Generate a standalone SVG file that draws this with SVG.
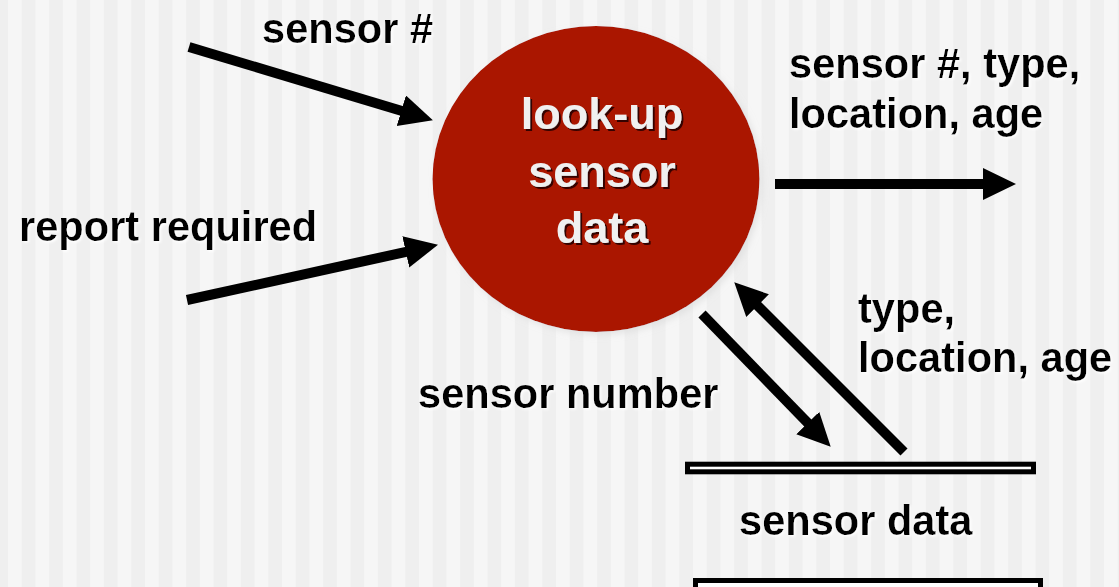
<svg xmlns="http://www.w3.org/2000/svg" width="1119" height="587" viewBox="0 0 1119 587">
  <defs>
    <pattern id="stripes" patternUnits="userSpaceOnUse" x="8" y="0" width="27.4" height="10">
      <rect x="0" y="0" width="13.7" height="10" fill="#f6f6f6"/>
      <rect x="13.7" y="0" width="13.7" height="10" fill="#efefef"/>
    </pattern>
    <marker id="arrow" markerUnits="userSpaceOnUse" markerWidth="36" markerHeight="34" refX="12" refY="16" orient="auto">
      <path d="M0,0 L33,16 L0,32 z" fill="#000"/>
    </marker>
    <filter id="lightShadow" x="-10%" y="-20%" width="120%" height="150%">
      <feDropShadow dx="1.5" dy="1.5" stdDeviation="0.8" flood-color="#ffffff" flood-opacity="1"/>
    </filter>
    <filter id="darkShadow" x="-10%" y="-20%" width="120%" height="150%">
      <feDropShadow dx="2" dy="2" stdDeviation="0.6" flood-color="#2a0000" flood-opacity="0.9"/>
    </filter>
    <filter id="circleShadow" x="-10%" y="-10%" width="125%" height="125%">
      <feDropShadow dx="3" dy="3" stdDeviation="3" flood-color="#d8d8d8" flood-opacity="0.6"/>
    </filter>
  </defs>
  <style>
    .lbl { font-family: "Liberation Sans", Arial, sans-serif; font-weight: bold; font-size: 41.6px; fill: #000; }
    .proc { font-family: "Liberation Sans", Arial, sans-serif; font-weight: bold; font-size: 45px; fill: #f0f0f0; text-anchor: middle; }
    .flow { stroke: #000; stroke-width: 10; fill: none; marker-end: url(#arrow); }
    .store { fill: #ffffff; stroke: #000; stroke-width: 5; }
  </style>

  <rect x="0" y="0" width="1119" height="587" fill="url(#stripes)"/>

  <g id="process-lookup">
    <ellipse cx="596" cy="179" rx="163.5" ry="153" fill="#aa1800" filter="url(#circleShadow)"/>
    <g filter="url(#darkShadow)">
      <text class="proc" x="602" y="129">look-up</text>
      <text class="proc" x="602" y="187">sensor</text>
      <text class="proc" x="602" y="243">data</text>
    </g>
  </g>

  <g id="store-sensor-data">
    <rect class="store" x="687.5" y="464.2" width="346" height="7.6"/>
    <rect class="store" x="695.5" y="580.5" width="345" height="12"/>
    <text class="lbl" x="739" y="535" filter="url(#lightShadow)">sensor data</text>
  </g>

  <g id="connectors">
    <line class="flow" x1="189" y1="47" x2="412.8" y2="114.2"/>
    <line class="flow" x1="187" y1="300" x2="417.5" y2="249.3"/>
    <line class="flow" x1="775" y1="184" x2="995" y2="184"/>
    <line class="flow" x1="702" y1="314" x2="816.1" y2="431.6"/>
    <line class="flow" x1="904" y1="452" x2="749.1" y2="297.1"/>
  </g>

  <g id="labels" filter="url(#lightShadow)">
    <text class="lbl" x="262" y="43">sensor #</text>
    <text class="lbl" x="19" y="241">report required</text>
    <text class="lbl" x="789" y="78">sensor #, type,</text>
    <text class="lbl" x="789" y="128">location, age</text>
    <text class="lbl" x="418" y="408">sensor number</text>
    <text class="lbl" x="858" y="323">type,</text>
    <text class="lbl" x="858" y="372">location, age</text>
  </g>
</svg>
